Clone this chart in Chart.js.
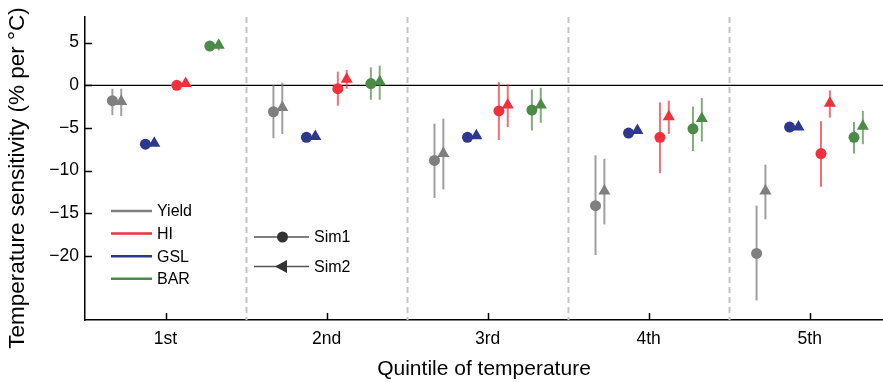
<!DOCTYPE html>
<html>
<head>
<meta charset="utf-8">
<script src="https://cdn.jsdelivr.net/npm/chart.js@4"></script>
<style>
  html, body { margin: 0; padding: 0; background: #fff; overflow: hidden; }
  /* a little wider than the window: the plot runs off the right edge in the original */
  #wrap { width: 890px; height: 382px; position: relative; }
  canvas { display: block; }
</style>
</head>
<body>
<div id="wrap"><canvas id="myChart"></canvas></div>
<script>
// categories and tick labels
var quintiles = ['1st', '2nd', '3rd', '4th', '5th'];
var yTickValues = [5, 0, -5, -10, -15, -20];

// values, per quintile (Sim1 = circle, Sim2 = triangle)
var yieldSim1 = [-1.8, -3.1, -8.8, -14.1, -19.7];
var yieldSim1Low = [-3.5, -6.2, -13.2, -19.9, -25.2];
var yieldSim1High = [-0.4, 0.0, -4.5, -8.2, -14.1];
var yieldSim2 = [-1.9, -2.6, -8.0, -12.4, -12.4];
var yieldSim2Low = [-3.6, -5.7, -12.2, -16.3, -15.7];
var yieldSim2High = [-0.4, 0.3, -3.9, -8.6, -9.3];

var gslSim1 = [-6.9, -6.1, -6.1, -5.6, -4.9];
var gslSim2 = [-6.8, -6.0, -5.9, -5.3, -4.9];

var hiSim1 = [0.0, -0.4, -3.0, -6.1, -8.0];
var hiSim1Low = [-0.3, -2.4, -6.4, -10.3, -11.9];
var hiSim1High = [0.3, 1.6, 0.4, -2.0, -4.2];
var hiSim2 = [0.2, 0.7, -2.3, -3.7, -2.1];
var hiSim2Low = [-0.1, -0.4, -4.9, -5.7, -3.8];
var hiSim2High = [0.4, 1.8, 0.1, -1.8, -0.6];

var barSim1 = [4.6, 0.2, -2.9, -5.1, -6.1];
var barSim1Low = [4.1, -1.7, -5.3, -7.7, -8.0];
var barSim1High = [5.0, 2.1, -0.5, -2.5, -4.3];
var barSim2 = [4.7, 0.4, -2.3, -3.9, -4.8];
var barSim2Low = [4.1, -1.7, -4.4, -6.6, -6.9];
var barSim2High = [5.0, 2.3, -0.3, -1.5, -3.0];

// styling
var colors = { Yield: '#7f7f7f', HI: '#f2303c', GSL: '#2d388c', BAR: '#4b8a47' };
var errColors = { Yield: 'rgba(127,127,127,0.75)', HI: 'rgba(242,48,60,0.7)', GSL: 'rgba(45,56,140,0.7)', BAR: 'rgba(75,138,71,0.7)' };
var offsets = { Yield: [-0.33, -0.275], GSL: [-0.125, -0.07], HI: [0.07, 0.125], BAR: [0.275, 0.33] };
var FONT = '"Liberation Sans", Arial, Helvetica, sans-serif';

function makeSet(name, sim, vals, lows, highs) {
   var off = offsets[name][sim];
   return {
      label: name + ' Sim' + (sim + 1),
      varName: name,
      data: vals.map(function (v, i) { return { x: i + 1 + off, y: v }; }),
      lows: lows,
      highs: highs,
      pointStyle: sim === 0 ? 'circle' : 'triangle',
      pointRadius: sim === 0 ? 5.5 : 7,
      pointHoverRadius: sim === 0 ? 5.5 : 7,
      backgroundColor: colors[name],
      borderColor: colors[name],
      borderWidth: 0,
      showLine: false
   };
}

var datasets = [
   makeSet('Yield', 0, yieldSim1, yieldSim1Low, yieldSim1High),
   makeSet('Yield', 1, yieldSim2, yieldSim2Low, yieldSim2High),
   makeSet('GSL', 0, gslSim1, null, null),
   makeSet('GSL', 1, gslSim2, null, null),
   makeSet('HI', 0, hiSim1, hiSim1Low, hiSim1High),
   makeSet('HI', 1, hiSim2, hiSim2Low, hiSim2High),
   makeSet('BAR', 0, barSim1, barSim1Low, barSim1High),
   makeSet('BAR', 1, barSim2, barSim2Low, barSim2High)
];

// zero line, quintile separators and error bars, behind the markers
var backdrop = {
   id: 'backdrop',
   beforeDatasetsDraw: function (chart) {
      var ctx = chart.ctx, a = chart.chartArea;
      var xs = chart.scales.x, ys = chart.scales.y;
      ctx.save();
      ctx.strokeStyle = '#c4c4c4';
      ctx.lineWidth = 2;
      ctx.setLineDash([6, 4]);
      for (var k = 1; k < quintiles.length; k++) {
         var px = Math.round(xs.getPixelForValue(k + 0.5)) + 0.5;
         ctx.beginPath();
         ctx.moveTo(px, a.top);
         ctx.lineTo(px, a.bottom);
         ctx.stroke();
      }
      ctx.setLineDash([]);
      ctx.strokeStyle = '#000';
      ctx.lineWidth = 1.2;
      var py0 = ys.getPixelForValue(0);
      ctx.beginPath();
      ctx.moveTo(a.left, py0);
      ctx.lineTo(a.right, py0);
      ctx.stroke();

      ctx.lineWidth = 2;
      chart.data.datasets.forEach(function (ds) {
         if (!ds.lows) return;
         ctx.strokeStyle = errColors[ds.varName];
         ds.data.forEach(function (p, i) {
            var x = xs.getPixelForValue(p.x);
            ctx.beginPath();
            ctx.moveTo(x, ys.getPixelForValue(ds.lows[i]));
            ctx.lineTo(x, ys.getPixelForValue(ds.highs[i]));
            ctx.stroke();
         });
      });
      ctx.restore();
   }
};

// inward ticks, y title and the two in-plot legends
var extras = {
   id: 'extras',
   afterDraw: function (chart) {
      var ctx = chart.ctx, a = chart.chartArea;
      var xs = chart.scales.x, ys = chart.scales.y;
      ctx.save();
      ctx.strokeStyle = '#000';
      ctx.lineWidth = 1.5;
      yTickValues.forEach(function (v) {
         var py = Math.round(ys.getPixelForValue(v)) + 0.5;
         ctx.beginPath();
         ctx.moveTo(a.left, py);
         ctx.lineTo(a.left + 7, py);
         ctx.stroke();
      });
      quintiles.forEach(function (q, i) {
         var px = Math.round(xs.getPixelForValue(i + 1)) + 0.5;
         ctx.beginPath();
         ctx.moveTo(px, a.bottom);
         ctx.lineTo(px, a.bottom - 7);
         ctx.stroke();
      });

      // y axis title
      ctx.save();
      ctx.translate(18, 178);
      ctx.rotate(-Math.PI / 2);
      ctx.font = '22.5px ' + FONT;
      ctx.fillStyle = '#000';
      ctx.textAlign = 'center';
      ctx.textBaseline = 'middle';
      ctx.fillText('Temperature sensitivity (% per \u00B0C)', 0, 0);
      ctx.restore();

      // variable legend
      ctx.font = '16px ' + FONT;
      ctx.textBaseline = 'middle';
      ctx.textAlign = 'left';
      var names = ['Yield', 'HI', 'GSL', 'BAR'];
      names.forEach(function (n, i) {
         var y = a.top + 194 + i * 22.6;
         ctx.strokeStyle = colors[n];
         ctx.lineWidth = 2.5;
         ctx.beginPath();
         ctx.moveTo(a.left + 26, y);
         ctx.lineTo(a.left + 67, y);
         ctx.stroke();
         ctx.fillStyle = '#000';
         ctx.fillText(n, a.left + 72, y + 1);
      });

      // simulation legend
      var lx0 = a.left + 169, lx1 = a.left + 224;
      var y1 = a.top + 220, y2 = a.top + 249.5;
      ctx.strokeStyle = '#555';
      ctx.lineWidth = 1.5;
      [y1, y2].forEach(function (y) {
         ctx.beginPath();
         ctx.moveTo(lx0, y);
         ctx.lineTo(lx1, y);
         ctx.stroke();
      });
      ctx.fillStyle = '#333';
      ctx.beginPath();
      ctx.arc(a.left + 197.5, y1, 5.5, 0, Math.PI * 2);
      ctx.fill();
      ctx.beginPath();
      ctx.moveTo(a.left + 190, y2);
      ctx.lineTo(a.left + 202, y2 - 6.5);
      ctx.lineTo(a.left + 202, y2 + 6.5);
      ctx.closePath();
      ctx.fill();
      ctx.fillStyle = '#000';
      ctx.fillText('Sim1', a.left + 229, y1 + 1);
      ctx.fillText('Sim2', a.left + 229, y2 + 1);
      ctx.restore();
   }
};

var canva = document.getElementById('myChart');
var myChart = new Chart(canva, {
   type: 'scatter',
   data: { datasets: datasets },
   plugins: [backdrop, extras],
   options: {
      responsive: true,
      maintainAspectRatio: false,
      animation: false,
      events: [],
      layout: { padding: { top: 17, right: 0, left: 0, bottom: 0 } },
      plugins: {
         legend: { display: false },
         tooltip: { enabled: false }
      },
      scales: {
         x: {
            type: 'linear',
            min: 0.5,
            max: 5.455,
            afterBuildTicks: function (scale) {
               scale.ticks = quintiles.map(function (q, i) { return { value: i + 1 }; });
            },
            afterFit: function (scale) { scale.height = 62; },
            grid: { display: false, drawTicks: false },
            border: { display: true, color: '#000', width: 1.5 },
            ticks: {
               padding: 9,
               color: '#000',
               font: { family: FONT, size: 17.5 },
               callback: function (v) { return quintiles[v - 1]; }
            },
            title: {
               display: true,
               text: 'Quintile of temperature',
               color: '#000',
               font: { family: FONT, size: 21 },
               padding: { top: 0, bottom: 0 }
            }
         },
         y: {
            min: -27.5,
            max: 8,
            afterBuildTicks: function (scale) {
               scale.ticks = yTickValues.map(function (v) { return { value: v }; });
            },
            afterFit: function (scale) { scale.width = 85; },
            grid: { display: false, drawTicks: false },
            border: { display: true, color: '#000', width: 1.5 },
            ticks: {
               padding: 6,
               color: '#000',
               font: { family: FONT, size: 17.5 },
               callback: function (v) { return v < 0 ? '\u2212' + Math.abs(v) : String(v); }
            }
         }
      }
   }
});
</script>
</body>
</html>
